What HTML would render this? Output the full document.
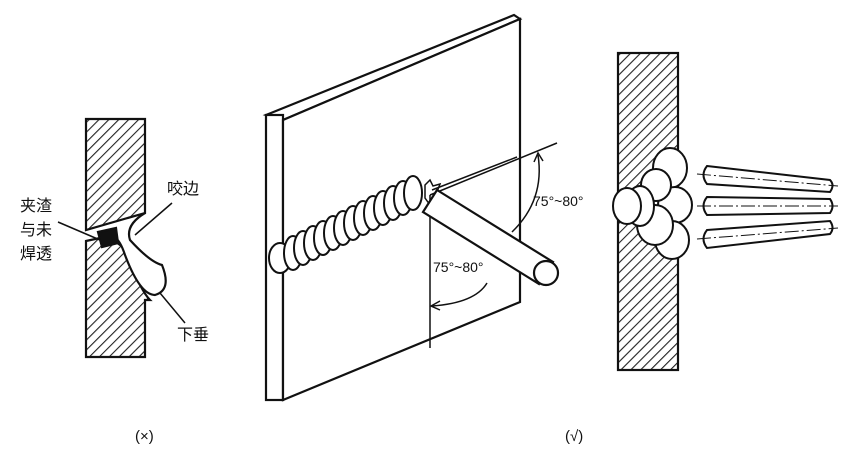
<!DOCTYPE html>
<html><head><meta charset="utf-8"><style>
html,body{margin:0;padding:0;background:#fff}
svg{display:block}
text{font-family:"Liberation Sans","Noto Sans CJK SC",sans-serif;fill:#111}
</style></head><body>
<svg width="844" height="456" viewBox="0 0 844 456" xmlns="http://www.w3.org/2000/svg">
<defs>
<pattern id="h" patternUnits="userSpaceOnUse" width="7" height="7" patternTransform="rotate(45)">
<rect width="7" height="7" fill="#fff"/><line x1="0" y1="0" x2="0" y2="7" stroke="#222" stroke-width="2.2"/>
</pattern>
</defs>
<g stroke="#111" stroke-width="2.2" fill="none">
<!-- LEFT -->
<path d="M86,119 L145,119 L145,213 L86,230 Z" fill="url(#h)"/>
<path d="M86,241 L100,238 Q118,240 125,250 Q140,290 150,300 L145,300 L145,357 L86,357 Z" fill="url(#h)"/>
<path d="M145,213 Q125,225 130,240 Q150,262 162,265 Q172,290 155,295 Q140,295 125,255 Q120,240 115,238" fill="#fff"/>
<path d="M98,232 L116,228 L118,243 L102,247 Z" fill="#111"/>
<line x1="58" y1="222" x2="100" y2="240" stroke-width="1.5"/>
<line x1="172" y1="203" x2="135" y2="235" stroke-width="1.5"/>
<line x1="160" y1="293" x2="185" y2="323" stroke-width="1.5"/>
<!-- CENTER plate -->
<path d="M266,115 L514,15 L520,19 L283,120 Z" fill="#fff"/>
<rect x="266" y="115" width="17" height="285" fill="#fff"/>
<path d="M283,120 L520,19 L520,302 L283,400 Z" fill="#fff"/>
<!-- weld bead -->
<g fill="#fff" stroke-width="2">
<ellipse cx="280" cy="258" rx="11" ry="15"/>
<ellipse cx="293" cy="253" rx="9" ry="17"/><ellipse cx="303" cy="248" rx="9" ry="17"/>
<ellipse cx="313" cy="243" rx="9" ry="17"/><ellipse cx="323" cy="238" rx="9" ry="17"/>
<ellipse cx="333" cy="233" rx="9" ry="17"/><ellipse cx="343" cy="228" rx="9" ry="17"/>
<ellipse cx="353" cy="223" rx="9" ry="17"/><ellipse cx="363" cy="218" rx="9" ry="17"/>
<ellipse cx="373" cy="213" rx="9" ry="17"/><ellipse cx="383" cy="208" rx="9" ry="17"/>
<ellipse cx="393" cy="203" rx="9" ry="17"/><ellipse cx="403" cy="198" rx="9" ry="17"/>
<ellipse cx="413" cy="193" rx="9" ry="17"/>
</g>
<path d="M425,185 L430,180 L433,186 L440,184 L437,192 L442,196 L435,200 L430,205 L425,198 Z" fill="#fff" stroke-width="1.5"/>
<!-- lines -->
<line x1="430" y1="195" x2="557" y2="143" stroke-width="1.5"/>
<line x1="432" y1="190" x2="517" y2="157" stroke-width="1.5"/>
<line x1="430" y1="195" x2="430" y2="348" stroke-width="1.5"/>
<!-- electrode -->
<path d="M437,190 L553,262 L539,284 L423,212 Z" fill="#fff"/>
<ellipse cx="546" cy="273" rx="12" ry="12" fill="#fff"/>
<!-- arcs -->
<path d="M538,155 Q545,200 512,232" stroke-width="1.5"/>
<path d="M534,162 L538,153 L543,161" stroke-width="1.5"/>
<path d="M487,283 Q475,303 432,306" stroke-width="1.5"/>
<path d="M440,301 L431,306 L440,310" stroke-width="1.5"/>
<!-- RIGHT -->
<rect x="618" y="53" width="60" height="317" fill="url(#h)"/>
<g fill="#fff" stroke-width="2">
<ellipse cx="670" cy="168" rx="17" ry="20"/>
<ellipse cx="675" cy="205" rx="17" ry="18"/>
<ellipse cx="672" cy="240" rx="17" ry="19"/>
<ellipse cx="656" cy="185" rx="15" ry="16"/>
<ellipse cx="655" cy="225" rx="18" ry="20"/>
<ellipse cx="640" cy="206" rx="14" ry="20"/>
<ellipse cx="627" cy="206" rx="14" ry="18"/>
</g>
<g fill="#fff" stroke-width="2">
<path d="M707,166 L830,180 Q835,185 830,192 L707,184 Q700,175 707,166 Z"/>
<path d="M707,197 L830,199 Q835,206 830,213 L707,215 Q700,206 707,197 Z"/>
<path d="M707,230 L830,221 Q835,228 830,234 L707,248 Q700,239 707,230 Z"/>
</g>
<g stroke-width="1" stroke-dasharray="14,3,2,3">
<line x1="697" y1="174" x2="838" y2="186"/>
<line x1="697" y1="206" x2="838" y2="206"/>
<line x1="697" y1="239" x2="838" y2="228"/>
</g>
</g>
<text x="20" y="211" font-size="16">夹渣</text>
<text x="20" y="235" font-size="16">与未</text>
<text x="20" y="259" font-size="16">焊透</text>
<text x="167" y="194" font-size="16">咬边</text>
<text x="177" y="340" font-size="16">下垂</text>
<text x="433" y="272" font-size="14" font-family="Liberation Serif">75°~80°</text>
<text x="533" y="206" font-size="14" font-family="Liberation Serif">75°~80°</text>
<text x="135" y="441" font-size="15">(×)</text>
<text x="565" y="441" font-size="15">(√)</text>
</svg>
</body></html>
